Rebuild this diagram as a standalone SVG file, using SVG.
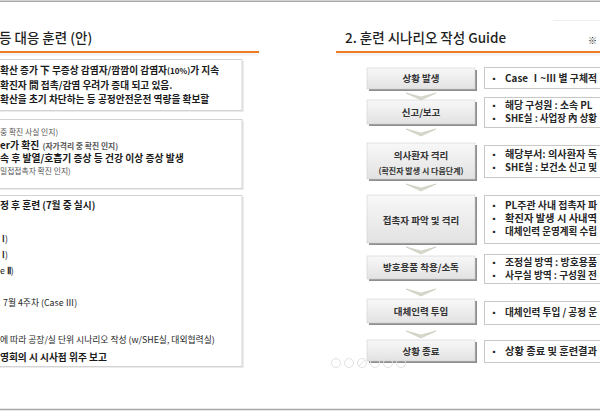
<svg xmlns="http://www.w3.org/2000/svg" width="600" height="412" viewBox="0 0 600 412">
<defs>
<linearGradient id="gfill" x1="0" y1="0" x2="0" y2="1">
<stop offset="0" stop-color="#f8f8f8"/>
<stop offset="1" stop-color="#e2e2e2"/>
</linearGradient>
<polygon id="chev" points="-15,0 0,4 15,0 0,7" fill="#d6d9cc" stroke="#c3c6b6" stroke-width="0.6"/>
<style>
text{font-family:"Noto Sans CJK KR","Noto Sans",sans-serif;fill:#1a1a1a}
.t{font-size:13.5px;font-weight:500;fill:#1f1f1f}
.b{font-weight:bold;font-size:9.7px}
.bb{font-weight:bold;font-size:9.8px}
.n{font-size:8.8px;fill:#262626}
.s{font-size:7.8px;fill:#555}
.lbl{font-size:9.5px;font-weight:bold;fill:#333;text-anchor:middle}
.lbs{font-size:8px;font-weight:bold;fill:#333;text-anchor:middle}
.det{font-size:9.8px;font-weight:bold;fill:#262626}
.bul{font-size:8px;fill:#262626}
.lbox{fill:#fff;stroke:#d3d3d3;stroke-width:1}
.lsh{fill:#ececec}
.gsh{fill:#8e8e8e}
.gbox{fill:url(#gfill);stroke:#d0d0d0;stroke-width:0.6}
.dbox{fill:#fff;stroke:#c8c8c8;stroke-width:1}
.orange{stroke:#ec7a23;stroke-width:2.2}
.frame{stroke:#a8a8a8;stroke-width:1.5}
.nav{fill:none;stroke:#e2e2e2;stroke-width:1}
</style>
</defs>
<rect x="0" y="0" width="600" height="412" fill="#fff"/>
<line class="frame" x1="0" y1="1.2" x2="600" y2="1.2"/>
<line class="frame" x1="0" y1="409.5" x2="600" y2="409.5"/>

<!-- Left slide -->
<g id="left-title">
<text class="t" x="-1" y="42.5">등 대응 훈련 (안)</text>
<line x1="0" y1="54.5" x2="259" y2="54.5" stroke="#f0f0f0" stroke-width="2"/>
<line class="orange" x1="0" y1="52" x2="259" y2="52"/>
</g>
<g id="left-box1">
<rect class="lsh" x="-10" y="61" width="254" height="51"/>
<rect class="lbox" x="-10" y="59.5" width="252" height="51"/>
<text class="b" x="0" y="74.4">확산 증가 下 무증상 감염자/깜깜이 감염자<tspan font-size="8">(10%)</tspan>가 지속</text>
<text class="b" x="0" y="89.4">확진자 間 접촉/감염 우려가 증대 되고 있음.</text>
<text class="b" x="0" y="103.4">확산을 초기 차단하는 등 공정안전운전 역량을 확보할</text>
</g>
<g id="left-box2">
<rect class="lsh" x="-10" y="121" width="254" height="69"/>
<rect class="lbox" x="-10" y="119.5" width="252" height="69"/>
<text class="s" x="0" y="135">중 확진 사실 인지)</text>
<text class="bb" x="0" y="148.6">er가 확진 <tspan class="s" dx="1">(자가격리 중 확진 인지)</tspan></text>
<text class="bb" x="0" y="161.6">속 후 발열/호흡기 증상 등 건강 이상 증상 발생</text>
<text class="s" x="0" y="174">밀접접촉자 확진 인지)</text>
</g>
<g id="left-box3">
<rect class="lsh" x="-10" y="197" width="254" height="171"/>
<rect class="lbox" x="-10" y="195.5" width="252" height="171"/>
<text class="b" x="0" y="208.5" font-size="9.2">정 후 훈련 (7월 중 실시)</text>
<text class="n" x="2" y="241.5"><tspan font-family="Liberation Serif, serif" font-weight="bold">Ⅰ</tspan>)</text>
<text class="n" x="2" y="257.5"><tspan font-family="Liberation Serif, serif" font-weight="bold">Ⅰ</tspan>)</text>
<text class="n" x="0" y="273.5">e <tspan font-family="Liberation Serif, serif" font-weight="bold">Ⅱ</tspan>)</text>
<text class="n" x="3" y="306" font-size="7.8">7월 4주차 (Case Ⅲ)</text>
<text class="n" x="0" y="343">에 따라 공장/실 단위 시나리오 작성 (w/SHE실, 대외협력실)</text>
<text class="b" x="0" y="360.5" font-size="9.4">영회의 시 시사점 위주 보고</text>
</g>

<!-- Right slide -->
<g id="right-title">
<text class="t" x="345" y="42.5" font-weight="bold" font-size="14">2. 훈련 시나리오 작성 Guide</text>
<text x="588" y="44" font-size="9" fill="#a0a0a0">※</text>
<line x1="553" y1="20.5" x2="600" y2="20.5" stroke="#efefef" stroke-width="1"/>
<line x1="336" y1="54.5" x2="600" y2="54.5" stroke="#f0f0f0" stroke-width="2"/>
<line class="orange" x1="336" y1="52" x2="600" y2="52"/>
</g>

<g id="connectors">
<use href="#chev" x="421" y="93"/>
<use href="#chev" x="421" y="129"/>
<use href="#chev" x="421" y="184"/>
<use href="#chev" x="421" y="247"/>
<use href="#chev" x="421" y="289"/>
<use href="#chev" x="421" y="331"/>
</g>

<g id="step1">
<rect class="gsh" x="369" y="70" width="108" height="21"/>
<rect class="gbox" x="367" y="68" width="108" height="21"/>
<text class="lbl" x="421" y="82">상황 발생</text>
</g>
<g id="step2">
<rect class="gsh" x="369" y="102" width="108" height="24"/>
<rect class="gbox" x="367" y="100" width="108" height="24"/>
<text class="lbl" x="421" y="116">신고/보고</text>
</g>
<g id="step3">
<rect class="gsh" x="369" y="145" width="108" height="36"/>
<rect class="gbox" x="367" y="143" width="108" height="36"/>
<text class="lbl" x="421" y="158.5">의사환자 격리</text>
<text class="lbs" x="421" y="173.5">(확진자 발생 시 다음단계)</text>
</g>
<g id="step4">
<rect class="gsh" x="369" y="197" width="108" height="48"/>
<rect class="gbox" x="367" y="195" width="108" height="48"/>
<text class="lbl" x="421" y="223.5">접촉자 파악 및 격리</text>
</g>
<g id="step5">
<rect class="gsh" x="369" y="258" width="108" height="23"/>
<rect class="gbox" x="367" y="256" width="108" height="23"/>
<text class="lbl" x="421" y="271">방호용품 착용/소독</text>
</g>
<g id="step6">
<rect class="gsh" x="369" y="301" width="108" height="24"/>
<rect class="gbox" x="367" y="299" width="108" height="24"/>
<text class="lbl" x="421" y="315">대체인력 투입</text>
</g>
<g id="step7">
<rect class="gsh" x="369" y="342" width="108" height="21"/>
<rect class="gbox" x="367" y="340" width="108" height="21"/>
<text class="lbl" x="421" y="355">상황 종료</text>
</g>

<g id="detail1">
<rect class="dbox" x="484.5" y="67.5" width="130" height="21"/>
<text class="bul" x="490" y="82">▪</text>
<text class="det" x="505" y="82.3" textLength="92" lengthAdjust="spacing">Case  Ⅰ~Ⅲ  별 구체적</text>
</g>
<g id="detail2">
<rect class="dbox" x="484.5" y="97.5" width="130" height="30"/>
<text class="bul" x="490" y="108.5">▪</text>
<text class="det" x="505" y="108.8">해당 구성원 : 소속 PL</text>
<text class="bul" x="490" y="121.5">▪</text>
<text class="det" x="505" y="121.8" textLength="92" lengthAdjust="spacingAndGlyphs">SHE실 : 사업장 內 상황</text>
</g>
<g id="detail3">
<rect class="dbox" x="484.5" y="145.5" width="130" height="32"/>
<text class="bul" x="490" y="157.5">▪</text>
<text class="det" x="505" y="157.8" textLength="92" lengthAdjust="spacingAndGlyphs">해당부서: 의사환자 독</text>
<text class="bul" x="490" y="170.5">▪</text>
<text class="det" x="505" y="170.8" textLength="92" lengthAdjust="spacingAndGlyphs">SHE실 : 보건소 신고 및</text>
</g>
<g id="detail4">
<rect class="dbox" x="484.5" y="195.5" width="130" height="48"/>
<text class="bul" x="490" y="209">▪</text>
<text class="det" x="505" y="209.3" textLength="92" lengthAdjust="spacingAndGlyphs">PL주관 사내 접촉자 파</text>
<text class="bul" x="490" y="222">▪</text>
<text class="det" x="505" y="222.3" textLength="92" lengthAdjust="spacingAndGlyphs">확진자 발생 시 사내역</text>
<text class="bul" x="490" y="235">▪</text>
<text class="det" x="505" y="235.3" textLength="92" lengthAdjust="spacingAndGlyphs">대체인력 운영계획 수립</text>
</g>
<g id="detail5">
<rect class="dbox" x="484.5" y="254.5" width="130" height="29"/>
<text class="bul" x="490" y="266">▪</text>
<text class="det" x="505" y="266.3" textLength="92" lengthAdjust="spacingAndGlyphs">조정실 방역 :  방호용품</text>
<text class="bul" x="490" y="279">▪</text>
<text class="det" x="505" y="279.3" textLength="92" lengthAdjust="spacingAndGlyphs">사무실 방역 : 구성원 전</text>
</g>
<g id="detail6">
<rect class="dbox" x="484.5" y="301.5" width="130" height="23"/>
<text class="bul" x="490" y="316">▪</text>
<text class="det" x="505" y="316.3" textLength="92" lengthAdjust="spacingAndGlyphs">대체인력 투입 / 공정 운</text>
</g>
<g id="detail7">
<rect class="dbox" x="484.5" y="340.5" width="130" height="22"/>
<text class="bul" x="490" y="355">▪</text>
<text class="det" x="505" y="355.3" textLength="92" lengthAdjust="spacingAndGlyphs">상황 종료 및 훈련결과</text>
</g>

<g id="nav">
<circle class="nav" cx="336" cy="363" r="4.5"/>
<circle class="nav" cx="349" cy="363" r="4.5"/>
<circle class="nav" cx="362" cy="363" r="4.5"/>
<line class="nav" x1="359" y1="366" x2="365" y2="360"/>
<circle class="nav" cx="375" cy="363" r="4.5"/>
<circle class="nav" cx="388" cy="363" r="4.5"/>
<circle class="nav" cx="401" cy="363" r="4.5"/>
</g>
</svg>
